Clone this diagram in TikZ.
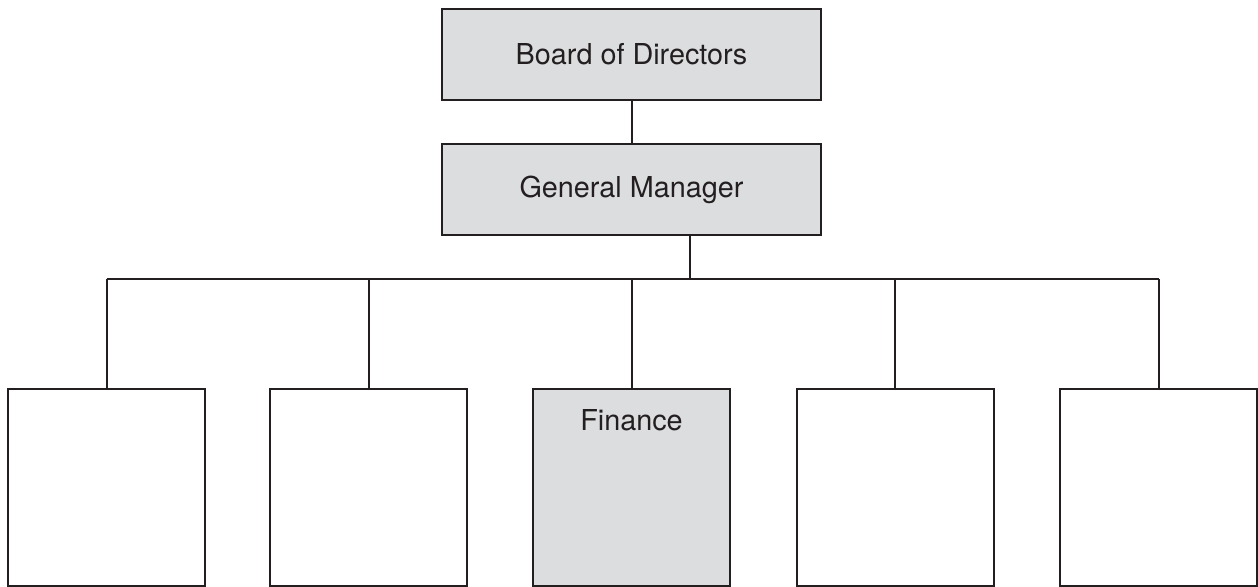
\documentclass[tikz,border=0pt]{standalone}
\usepackage{fontspec}
\setmainfont{TeX Gyre Heros}
\usetikzlibrary{positioning}
\definecolor{boxgray}{RGB}{220,221,223}
\definecolor{inkgray}{RGB}{35,31,32}
\begin{document}
\begin{tikzpicture}[x=0.5pt,y=-0.5pt,
	line width=1pt, draw=inkgray,
	topbox/.style={draw=inkgray, fill=boxgray, minimum width=189.5pt, minimum height=45.5pt, inner sep=0pt},
	deptbox/.style={draw=inkgray, minimum width=98.5pt, minimum height=98.5pt, inner sep=0pt},
	font=\fontsize{14.4}{17}\selectfont, text=inkgray]
	\useasboundingbox (0,0) rectangle (1258,587);
	\node[topbox] (board) at (631.5,54.5) {Board of Directors};
	\node[topbox] (gm) at (631.5,190) {General Manager};
	\coordinate (bus) at (690,279);
	% departments
	\node[deptbox] (d1) at (106.5,487.5) {};
	\node[deptbox] (d2) at (368.5,487.5) {};
	\node[deptbox, fill=boxgray] (d3) at (631.5,487.5) {};
	\node[deptbox] (d4) at (895,487.5) {};
	\node[deptbox] (d5) at (1158.5,487.5) {};
	\node (fintext) at ([yshift=-16pt]d3.north) {Finance};
	\draw (board.south) -- (gm.north);
	\draw (gm.south -| bus) -- (bus);
	\draw (d1.north |- bus) -- (d5.north |- bus);
	\foreach \d in {d1,d2,d3,d4,d5}
		\draw (\d.north) -- (\d.north |- bus);
\end{tikzpicture}
\end{document}
